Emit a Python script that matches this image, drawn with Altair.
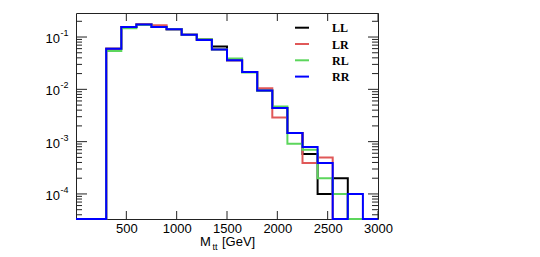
import altair as alt
import pandas as pd

# ---- data (bin contents; 0 = empty bin) ----
bin_edges = [0, 150, 300, 450, 600, 750, 900, 1050, 1200, 1350, 1500,
             1650, 1800, 1950, 2100, 2250, 2400, 2550, 2700, 2850, 3000]
series_names = ["LL", "LR", "RL", "RR"]
series_colors = ["#000000", "#e05858", "#5cd65c", "#0000ff"]
LL = [0, 0, 0.060, 0.156, 0.173, 0.158, 0.141, 0.111, 0.090, 0.066, 0.0358,
      0.0214, 0.0095, 0.0044, 0.00147, 0.00058, 0.0001, 0.0002, 0, 0]
LR = [0, 0, 0.060, 0.156, 0.173, 0.168, 0.141, 0.111, 0.088, 0.058, 0.0358,
      0.0214, 0.0105, 0.0029, 0.00147, 0.00039, 0.00050, 0, 0, 0]
RL = [0, 0, 0.054, 0.147, 0.170, 0.156, 0.141, 0.111, 0.090, 0.058, 0.039,
      0.0210, 0.0095, 0.0047, 0.00091, 0.00070, 0.0002, 0.0001, 0, 0]
RR = [0, 0, 0.060, 0.156, 0.173, 0.156, 0.141, 0.111, 0.0877, 0.058, 0.0358,
      0.0214, 0.0095, 0.0044, 0.00147, 0.00079, 0.00039, 0, 0.0001, 0]
series_values = [LL, LR, RL, RR]

x_tick_values = [500, 1000, 1500, 2000, 2500, 3000]
y_decades = [1e-4, 1e-3, 1e-2, 1e-1]
y_exponents = ["-4", "-3", "-2", "-1"]
y_minor = [k * d for d in [1e-5, 1e-4, 1e-3, 1e-2, 1e-1] for k in range(2, 10)]

YMIN, YMAX = 3.32e-5, 0.288
W, H = 302, 206
y_minor = [v for v in y_minor if YMIN <= v <= YMAX]

rows = []
for name, vals in zip(series_names, series_values):
    for i, v in enumerate(vals):
        rows.append({"series": name, "x": bin_edges[i], "v": v})
    rows.append({"series": name, "x": bin_edges[-1], "v": vals[-1]})
df = pd.DataFrame(rows)

xsc = alt.Scale(domain=[0, 3000], nice=False, zero=False)
ysc = alt.Scale(type="log", domain=[YMIN, YMAX], nice=False)
xaxis = alt.Axis(values=x_tick_values, ticks=False, domain=False, grid=False, format="d",
                 labelFontSize=13, labelFont="Liberation Sans", labelColor="black",
                 labelPadding=3, title=None, labelFlush=False, labelOverlap=False)

layers = []
for name, col in zip(series_names, series_colors):
    layers.append(
        alt.Chart(df).transform_filter(alt.datum.series == name)
        .transform_calculate(vp=f"max(datum.v, {YMIN})")
        .mark_line(interpolate="step-after", color=col, strokeWidth=2, clip=False)
        .encode(x=alt.X("x:Q", scale=xsc, axis=xaxis),
                y=alt.Y("vp:Q", scale=ysc, axis=None))
    )

tick_col = "#222222"
dec_df = pd.DataFrame({"yt": y_decades, "e": y_exponents})
min_df = pd.DataFrame({"yt": y_minor})
xt_df = pd.DataFrame({"x": x_tick_values})

def yticks(d, x0, x1):
    return alt.Chart(d).mark_rule(color=tick_col, strokeWidth=1).encode(
        y=alt.Y("yt:Q", scale=ysc, axis=None), x=alt.value(x0), x2=alt.value(x1))

layers += [yticks(dec_df, 0, 11), yticks(min_df, 0, 6),
           yticks(dec_df, W, W - 10), yticks(min_df, W, W - 6)]

for y0, y1 in [(0, 8), (H, H - 8)]:
    layers.append(alt.Chart(xt_df).mark_rule(color=tick_col, strokeWidth=1).encode(
        x=alt.X("x:Q", scale=xsc, axis=xaxis), y=alt.value(y0), y2=alt.value(y1)))

# y labels 10^n
layers.append(alt.Chart(dec_df).mark_text(align="right", baseline="middle", fontSize=13,
                                          font="Liberation Sans", dy=2, color="black").encode(
    y=alt.Y("yt:Q", scale=ysc, axis=None), x=alt.value(-16), text=alt.value("10")))
layers.append(alt.Chart(dec_df).mark_text(align="left", baseline="middle", fontSize=9,
                                          font="Liberation Sans", dy=-4, color="black").encode(
    y=alt.Y("yt:Q", scale=ysc, axis=None), x=alt.value(-15.5), text="e:N"))

# x title  M_tt [GeV]
title_df = pd.DataFrame({"t": [0]})
for txt, xp, yp, fs in [("M", 124, 233, 13), ("tt", 136.5, 236.5, 9), ("[GeV]", 146, 233, 13)]:
    layers.append(alt.Chart(title_df).mark_text(align="left", baseline="alphabetic",
                                                fontSize=fs, font="Liberation Sans",
                                                color="black").encode(
        x=alt.value(xp), y=alt.value(yp), text=alt.value(txt)))

# legend
for i, (name, col) in enumerate(zip(series_names, series_colors)):
    yy = 14.7 + 16.3 * i
    leg = pd.DataFrame({"s": [name]})
    layers.append(alt.Chart(leg).mark_rule(color=col, strokeWidth=2).encode(
        x=alt.value(219), x2=alt.value(233), y=alt.value(yy)))
    layers.append(alt.Chart(leg).mark_text(align="left", baseline="middle", fontSize=12,
                                           font="Liberation Serif", fontWeight="bold",
                                           color="black").encode(
        x=alt.value(256), y=alt.value(yy + 0.5), text="s:N"))

chart = alt.layer(*layers).properties(
    width=W, height=H,
    autosize=alt.AutoSizeParams(type="none"),
    padding={"left": 68, "top": 5, "right": 150, "bottom": 34},
).configure_view(stroke="#222222", strokeWidth=1)

chart.save("out.html", embed_options={"renderer": "svg", "actions": False})
